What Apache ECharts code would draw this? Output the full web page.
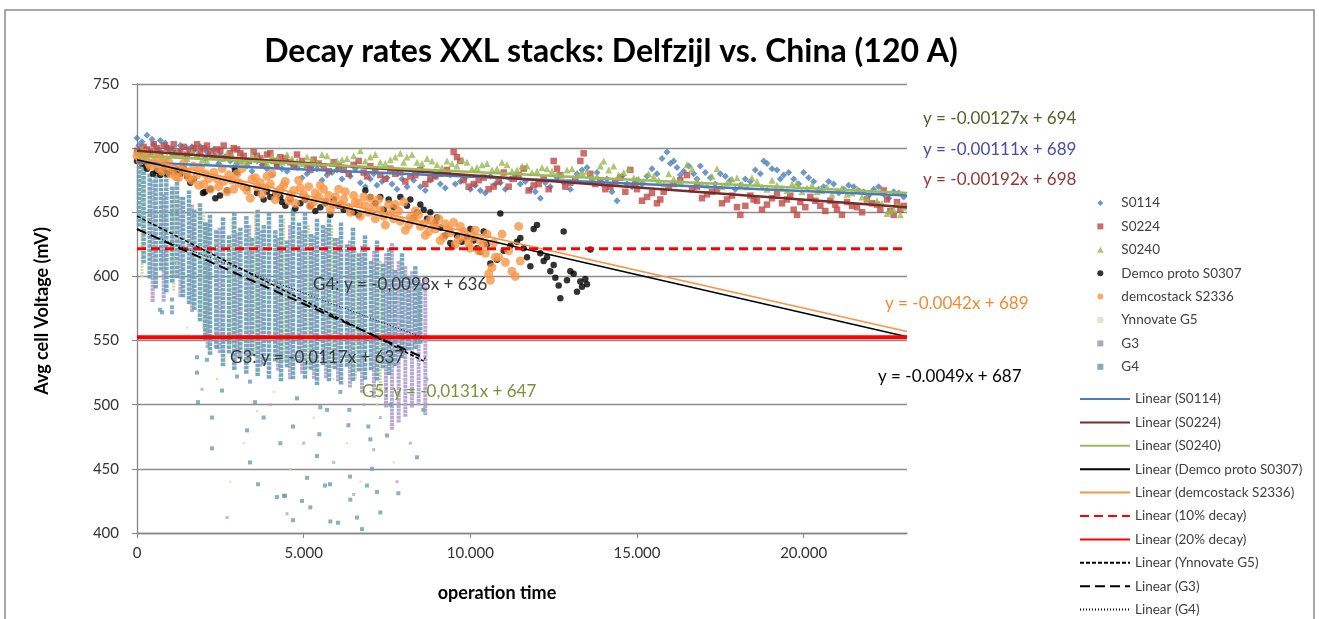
<!DOCTYPE html>
<html><head><meta charset="utf-8">
<script src="https://cdn.jsdelivr.net/npm/echarts@6.0.0/dist/echarts.min.js"></script>
<style>html,body{margin:0;padding:0;background:#fff}#c{width:1319px;height:619px}</style>
</head><body><div id="c"></div>
<script>
// ---------- data ----------
const titleText = 'Decay rates XXL stacks: Delfzijl vs. China (120 A)';
const xAxisName = 'operation time';
const yAxisName = 'Avg cell Voltage (mV)';

const s0114 = [[0,708],[150,705],[300,710],[500,703],[700,706],[900,701],[1100,699],[1300,702],[1500,700],[1700,698],[1900,701],[2100,697],[2300,699],[2500,694],[2800,690],[3000,688],[3300,686],[3600,690],[3900,684],[4200,687],[4500,682],[4800,685],[5100,680],[5400,684],[5700,679],[6000,683],[6400,678],[6700,673],[7000,676],[7200,671],[7500,677],[7800,668],[8100,670],[8300,675],[8500,670],[8800,675],[9100,672],[9400,679],[9700,674],[10000,668],[10300,667],[10600,678],[10900,673],[11200,676],[11500,672],[11800,668],[12100,661],[12400,670],[12800,673],[13200,680],[13500,685],[13800,681],[14100,676],[14400,659],[14700,672],[15000,675],[15300,678],[15600,680],[15900,697],[16000,688],[16200,685],[16400,682],[16700,680],[16900,686],[17200,677],[17500,680],[17800,675],[18100,671],[18400,674],[18700,680],[18900,688],[19200,683],[19400,679],[19700,676],[20000,681],[20300,674],[20600,670],[20900,672],[21200,668],[21500,670],[21800,666],[22100,668],[22400,664],[22700,666],[23000,662],
  [50,702],[250,698],[450,707],[650,699],[850,704],[1050,696],[1250,697],[1450,694],[1650,701],[1850,695],[2050,692],[2250,695],[2450,688],[2650,693],[2900,685],[3150,690],[3450,682],[3750,687],[4050,679],[4350,684],[4650,688],[4950,677],[5250,686],[5550,675],[5850,681],[6150,676],[6550,684],[6850,670],[7100,680],[7350,674],[7650,672],[7950,676],[8650,667],[8950,678],[9250,669],[9550,672],[9850,677],[10150,671],[10450,665],[10750,672],[11050,668],[11350,679],[11650,674],[11950,666],[12250,673],[12600,677],[13000,668],[13350,683],[13650,676],[13950,672],[14250,666],[14550,678],[14850,670],[15150,672],[15450,684],[15750,692],[16100,690],[16300,679],[16550,686],[16800,676],[17050,681],[17350,672],[17650,678],[17950,668],[18250,676],[18550,683],[18800,690],[19050,684],[19300,676],[19550,681],[19850,672],[20150,677],[20450,668],[20750,674],[21050,665],[21350,671],[21650,667],[21950,663],[22250,670],[22550,661],[22850,665]];
const s0224 = [[0,698],[200,701],[400,697],[600,700],[800,702],[1000,699],[1200,696],[1400,701],[1600,698],[1800,703],[2000,700],[2200,697],[2400,699],[2600,702],[2800,696],[3000,699],[3200,694],[3500,697],[3700,692],[3900,695],[4100,690],[4300,693],[4600,689],[4800,695],[5100,687],[5300,691],[5600,685],[5900,689],[6200,683],[6500,687],[6800,681],[7000,686],[7300,679],[7600,684],[7900,681],[8200,678],[8500,683],[8800,676],[9100,680],[9500,697],[9600,693],[9800,675],[10100,672],[10400,677],[10700,670],[11000,681],[11300,676],[11600,684],[11900,671],[12200,676],[12500,690],[12700,679],[13000,673],[13400,696],[13600,680],[13900,675],[14200,670],[14500,677],[14800,683],[15000,668],[15300,662],[15600,657],[15800,666],[16100,672],[16500,679],[16800,670],[17100,664],[17400,668],[17700,660],[18000,654],[18100,648],[18400,663],[18600,659],[18900,656],[19200,665],[19500,660],[19700,652],[19900,658],[20200,662],[20500,655],[20800,659],[21000,652],[21300,658],[21600,654],[21900,660],[22200,656],[22400,667],[22600,651],[22800,658],[23000,655],
  [100,695],[300,699],[500,703],[700,696],[900,700],[1100,703],[1300,697],[1500,695],[1700,700],[1900,697],[2100,702],[2300,694],[2500,698],[2700,693],[2900,700],[3100,696],[3350,690],[3600,694],[3800,688],[4000,696],[4200,686],[4450,692],[4700,686],[4950,690],[5200,683],[5450,688],[5750,682],[6050,686],[6350,680],[6650,690],[6900,678],[7150,683],[7450,676],[7750,680],[8050,674],[8350,679],[8650,672],[8950,678],[9300,683],[9700,690],[9950,670],[10250,675],[10550,668],[10850,674],[11150,670],[11450,679],[11750,667],[12050,672],[12350,668],[12600,684],[12850,670],[13150,676],[13300,690],[13750,672],[14050,668],[14350,674],[14650,666],[14950,672],[15150,659],[15450,665],[15700,660],[15950,670],[16300,675],[16650,668],[16950,661],[17250,666],[17550,657],[17850,663],[18250,655],[18500,660],[18750,652],[19050,661],[19350,657],[19600,663],[19800,648],[20050,654],[20350,659],[20650,651],[20950,656],[21150,648],[21450,655],[21750,650],[22050,657],[22300,652],[22500,660],[22700,648],[22900,652]];
const s0240 = [[0,697],[300,694],[600,696],[900,693],[1200,697],[1500,692],[1800,695],[2100,690],[2400,694],[2700,696],[3000,691],[3300,689],[3600,693],[3900,688],[4200,692],[4500,695],[4800,690],[5100,693],[5400,689],[5700,694],[6000,690],[6300,692],[6700,698],[7000,693],[7300,689],[7600,691],[7900,696],[8100,693],[8400,689],[8700,692],[9000,687],[9300,690],[9600,686],[9900,689],[10200,685],[10500,688],[10800,684],[11100,687],[11400,683],[11700,686],[12000,682],[12300,684],[12600,680],[12900,683],[13200,679],[13500,682],[13800,678],[14000,690],[14300,686],[14600,681],[14900,677],[15200,674],[15500,678],[15800,672],[16100,676],[16500,687],[16800,675],[17100,671],[17400,684],[17700,673],[18000,677],[18300,670],[18600,674],[18900,668],[19200,671],[19500,667],[19800,673],[20100,669],[20400,666],[20700,670],[21000,667],[21300,664],[21600,668],[21900,661],[22200,659],[22500,649],[22700,652],[22900,648],[23000,654],
  [150,699],[450,695],[750,692],[1050,696],[1350,694],[1650,697],[1950,691],[2250,695],[2550,692],[2850,694],[3150,690],[3450,694],[3750,691],[4050,694],[4350,689],[4650,692],[4950,688],[5250,691],[5550,695],[5850,688],[6150,691],[6500,694],[6850,690],[7150,695],[7450,688],[7750,693],[8000,689],[8250,695],[8550,688],[8850,690],[9150,685],[9450,688],[9750,691],[10050,684],[10350,687],[10650,683],[10950,689],[11250,682],[11550,686],[11850,681],[12150,685],[12450,682],[12750,679],[13050,684],[13350,681],[13650,677],[13900,686],[14150,683],[14450,679],[14750,684],[15050,676],[15350,680],[15650,675],[15950,680],[16300,674],[16650,684],[16950,672],[17250,678],[17550,670],[17850,676],[18150,672],[18450,677],[18750,670],[19050,675],[19350,669],[19650,672],[19950,666],[20250,671],[20550,667],[20850,664],[21150,669],[21450,665],[21750,662],[22050,666],[22350,657],[22600,651],[22800,656]];
const demcoProto = [[0,690],[150,688],[300,684],[480,680],[600,682],[800,684],[900,680],[1050,683],[1200,683],[1300,680],[1500,678],[1700,676],[1980,665],[2040,666],[2490,663],[2700,667],[2940,683],[3000,681],[3600,665],[3900,666],[4000,662],[4300,662],[4350,658],[4600,660],[4900,657],[5200,655],[5500,654],[5800,648],[5900,660],[6200,652],[6850,667],[7000,662],[7300,662],[7550,660],[7700,654],[7900,662],[8200,660],[8400,650],[8500,656],[8600,652],[8800,650],[8950,642],[9000,646],[9250,632],[9400,626],[9450,623],[9900,631],[10000,637],[10200,622],[10400,635],[10600,610],[10800,613],[10900,649],[11400,627],[11500,630],[11700,615],[11800,608],[11900,637],[12000,640],[12100,618],[12300,615],[12500,609],[12550,599],[12650,593],[12700,583],[12800,635],[12900,597],[13000,604],[13100,602],[13300,596],[13350,592],[13450,598],[13600,621],
  [250,687],[700,679],[1100,681],[1400,684],[1600,673],[2200,668],[2350,661],[3300,669],[3800,660],[4150,664],[4450,655],[4750,653],[5050,660],[5350,651],[5650,657],[6050,655],[6500,650],[6650,648],[7150,657],[7400,652],[8100,655],[8300,646],[8700,645],[9100,638],[9600,632],[9750,627],[10100,628],[10300,619],[10500,625],[11000,620],[11200,624],[11600,622],[12200,612],[12400,604],[13200,588],[13500,594]];
const demcostack = [[0,694],[100,690],[250,696],[400,686],[500,689],[650,684],[800,691],[900,686],[1000,680],[1100,684],[1250,677],[1400,688],[1500,681],[1650,675],[1800,679],[1900,685],[2000,672],[2150,676],[2300,681],[2450,670],[2600,674],[2750,679],[2900,668],[3050,673],[3150,684],[3300,667],[3450,676],[3600,670],[3750,664],[3900,678],[4000,672],[4150,660],[4300,668],[4450,674],[4600,663],[4750,657],[4900,669],[5050,661],[5200,655],[5350,665],[5500,671],[5650,658],[5800,652],[5950,662],[6100,656],[6250,666],[6400,650],[6550,658],[6700,647],[6850,655],[7000,661],[7150,645],[7300,652],[7450,640],[7600,649],[7750,656],[7900,643],[8050,636],[8200,646],[8350,651],[8500,639],[8650,632],[8800,644],[8950,637],[9100,628],[9250,641],[9400,634],[9550,625],[9700,639],[9850,631],[10000,622],[10150,636],[10300,628],[10450,618],[10550,602],[10600,597],[10700,626],[10850,615],[10950,633],[11050,611],[11150,620],[11250,604],[11350,600],[11450,639],[11500,612],
  [200,692],[350,688],[600,693],[750,682],[950,689],[1150,678],[1350,683],[1550,677],[1700,686],[1850,671],[2050,680],[2200,668],[2400,676],[2550,684],[2700,666],[2850,675],[3000,680],[3200,670],[3400,661],[3550,677],[3700,673],[3850,669],[4050,680],[4200,665],[4400,671],[4550,659],[4700,667],[4850,675],[5000,664],[5150,670],[5300,658],[5450,662],[5600,668],[5750,663],[5900,656],[6050,668],[6200,660],[6350,654],[6500,663],[6650,657],[6800,662],[6950,650],[7100,655],[7250,660],[7400,647],[7550,656],[7700,645],[7850,651],[8000,658],[8150,640],[8300,644],[8450,648],[8600,641],[8750,635],[8900,640],[9050,645],[9200,631],[9350,637],[9500,642],[9650,629],[9800,635],[9950,626],[10100,631],[10250,620],[10400,625],[10500,633],[10650,607],[10750,615]];
// dense vertical streaks: [x, low, high]
const g5Streaks = [[150,600,690],[1100,590,670],[2000,560,650],[2850,548,645],[3550,540,650],[4400,535,645],[5150,530,640],[5850,528,640],[6550,520,620],[7300,510,612]];
const g3Streaks = [[470,582,675],[800,580,664],[1300,585,662],[1650,572,656],[2120,545,642],[2480,540,638],[3010,538,634],[3370,536,640],[3710,530,636],[4230,528,630],[4590,522,640],[4950,526,636],[5310,520,632],[5670,522,638],[6030,518,630],[6390,515,628],[6750,510,624],[7110,505,620],[7470,500,618],[7650,482,626],[7850,486,612],[8050,492,608],[8250,498,604],[8450,500,600],[8650,494,598]];
const g4Streaks = [[60,640,700],[200,612,692],[380,600,680],[560,592,686],[720,604,676],[880,588,683],[1050,596,670],[1200,600,677],[1380,586,662],[1560,580,667],[1720,574,652],[1890,566,657],[2050,552,642],[2190,540,648],[2380,545,636],[2580,530,646],[2760,540,632],[2920,528,650],[3100,536,638],[3280,526,647],[3450,540,630],[3620,524,652],[3800,532,640],[3960,522,650],[4150,534,636],[4320,520,648],[4500,530,628],[4680,522,653],[4860,534,642],[5040,520,650],[5220,530,633],[5400,518,645],[5580,532,640],[5760,520,648],[5940,528,630],[6120,518,642],[6300,530,625],[6480,520,638],[6660,526,618],[6840,522,632],[7020,528,612],[7200,520,628],[7380,530,610],[7560,524,622],[7740,532,605],[7950,536,618],[8150,542,600],[8350,546,608],[8500,550,595]];
// isolated points
const g5Points = [[1500,560],[2400,520],[3200,470],[3600,495],[4100,510],[4600,450],[5300,490],[5900,520],[6300,470],[6700,440],[7200,500],[7700,455],[8000,520],[3000,600],[1200,610],[2800,440]];
const g3Points = [[1950,512],[2700,412],[3100,540],[4000,500],[5000,470],[5900,455],[6500,430],[7100,465],[7800,440],[8200,470],[8700,520],[4500,415],[6800,500],[7300,490]];
const g4Points = [[750,572],[1050,582],[1050,576],[1050,572],[690,574],[1800,537],[1800,525],[2100,535],[2550,511],[1830,502],[2250,490],[2250,466],[3390,455],[3390,518],[3000,522],[3540,502],[4200,428],[4410,429],[3630,438],[4680,483],[5470,477],[5400,460],[5100,443],[4440,429],[4950,425],[4680,410],[5640,437],[5790,438],[6340,484],[6390,444],[6900,437],[7200,432],[6400,426],[5800,409],[6030,408],[6750,403],[7300,416],[6940,483],[7000,473],[7500,476],[7840,431],[8400,459],[8590,496],[6370,496],[5700,496],[5500,498],[3300,480],[4800,505],[6100,510],[7600,500],[2400,545],[4300,470],[5200,420],[6600,412],[7050,450],[3800,490]];
// trend lines (end points)
const trS0114 = [[0,689],[23100,663]];
const trS0224 = [[0,698],[23100,654]];
const trS0240 = [[0,694],[23100,665]];
const trDemco = [[0,691],[23100,553]];
const trDemcostack = [[0,693],[23100,557]];
const tr10 = [[0,621.5],[23100,621.5]];
const tr20 = [[0,552.5],[23100,552.5]];
const trG5 = [[0,647],[8600,534]];
const trG3 = [[0,637],[8650,536]];
const trG4 = [[0,636],[8600,552]];
// equation labels
const eqTexts = ['y = -0.00127x + 694','y = -0.00111x + 689','y = -0.00192x + 698','y = -0.0042x + 689','y = -0.0049x + 687','G4: y = -0,0098x + 636','G3: y = -0,0117x + 637','G5: y = -0,0131x + 647'];

// ---------- chart ----------
const FONT = 'Lato, "Open Sans", sans-serif';
const chart = echarts.init(document.getElementById('c'));

function streak(color, w, h, step, op) {
  return function (params, api) {
    const t = api.coord([api.value(0), api.value(2)]);
    const b = api.coord([api.value(0), api.value(1)]);
    const children = [];
    for (let y = t[1]; y < b[1]; y += step) {
      children.push({type: 'rect', shape: {x: t[0] - w / 2, y: y, width: w, height: h}, style: {fill: color, opacity: op}});
    }
    return {type: 'group', children};
  };
}
function sc(name, data, symbol, size, color) {
  return {type: 'scatter', name, data, symbol, symbolSize: size, itemStyle: {color}, silent: true};
}
function ln(name, data, color, width, type) {
  return {type: 'line', name, data, symbol: 'none', silent: true, lineStyle: {color, width, type: type || 'solid'}, itemStyle: {color}, z: 5};
}
const cG5 = '#c9d89f', cG3 = '#b4a4cf', cG4 = '#6a9fb4';
const xFmt = v => String(v).replace(/\B(?=(\d{3})+(?!\d))/g, '.');
const P = {
  diamond: 'path://M5,0L10,5L5,10L0,5Z',
  square: 'path://M0,0H10V10H0Z',
  triangle: 'path://M5,0L10,9H0Z',
  circle: 'path://M5,0A5,5,0,1,1,5,10A5,5,0,1,1,5,0Z'
};

const eqPos = [[923,119,'#4f6228'],[923,150,'#4a4aa8'],[923,180,'#953735'],[885,304,'#f08a30'],[878,377,'#000000'],[313,285,'#3a3a3a'],[230,358,'#3a3a3a'],[362,392,'#77933c']];
const legText = {fontSize: 13.5, color: '#404040', fontFamily: FONT, lineHeight: 16};
const lineNames = ['Linear (S0114)', 'Linear (S0224)', 'Linear (S0240)', 'Linear (Demco proto S0307)', 'Linear (demcostack S2336)',
  'Linear (10% decay)', 'Linear (20% decay)', 'Linear (Ynnovate G5)', 'Linear (G3)', 'Linear (G4)'];

chart.setOption({
  animation: false,
  grid: {left: 137, right: 412, top: 84, bottom: 86},
  xAxis: {type: 'value', min: 0, max: 23100, interval: 5000,
    axisLine: {lineStyle: {color: '#868686', width: 1.3}},
    axisTick: {show: true, inside: false, length: 5, lineStyle: {color: '#868686'}},
    splitLine: {show: false},
    axisLabel: {margin: 13, fontSize: 15, color: '#333', fontFamily: FONT, showMaxLabel: false, formatter: xFmt}},
  yAxis: {type: 'value', min: 400, max: 750, interval: 50,
    axisLine: {show: true, lineStyle: {color: '#868686', width: 1.3}},
    axisTick: {show: true, inside: false, length: 5, lineStyle: {color: '#868686'}},
    splitLine: {show: true, lineStyle: {color: '#8c8c8c', width: 1.3}},
    axisLabel: {margin: 18, fontSize: 15, color: '#333', fontFamily: FONT}},
  legend: [
    {orient: 'vertical', left: 1097, top: 195, padding: 0, itemWidth: 32, itemHeight: 6, itemGap: 7.4, textStyle: legText,
      data: [{name: 'S0114', icon: P.diamond}, {name: 'S0224', icon: P.square}, {name: 'S0240', icon: P.triangle},
        {name: 'Demco proto S0307', icon: P.circle}, {name: 'demcostack S2336', icon: P.circle},
        {name: 'Ynnovate G5', icon: P.square, itemStyle: {color: '#dfe6c8'}}, {name: 'G3', icon: P.square, itemStyle: {color: '#a9a9b8'}}, {name: 'G4', icon: P.square, itemStyle: {color: '#8aa8b8'}}]},
    {orient: 'vertical', left: 1079, top: 391, padding: 0, itemWidth: 50, itemHeight: 12, itemGap: 7.4, textStyle: legText,
      itemStyle: {opacity: 0}, data: lineNames.slice(0, 9)},
    {orient: 'vertical', left: 1079, top: 601.6, padding: 0, itemWidth: 50, itemHeight: 12, itemGap: 7.4, textStyle: legText,
      itemStyle: {opacity: 0}, data: lineNames.slice(9)}
  ],
  series: [
    sc('S0114', s0114, 'diamond', 7, '#4a7ebb'),
    sc('S0224', s0224, 'rect', 6.5, '#be4b48'),
    sc('S0240', s0240, 'triangle', 7, '#98b954'),
    sc('Demco proto S0307', demcoProto, 'circle', 6.5, '#000000'),
    sc('demcostack S2336', demcostack, 'circle', 9, '#f79646'),
    {type: 'custom', name: 'Ynnovate G5', data: g5Streaks, renderItem: streak(cG5, 3, 2, 3, 0.95), itemStyle: {color: cG5}, encode: {x: 0, y: [1, 2]}, silent: true},
    sc('Ynnovate G5', g5Points, 'rect', 2, cG5),
    {type: 'custom', name: 'G3', data: g3Streaks, renderItem: streak(cG3, 4, 3, 3.6, 0.95), itemStyle: {color: cG3}, encode: {x: 0, y: [1, 2]}, silent: true},
    sc('G3', g3Points, 'rect', 3, cG3),
    {type: 'custom', name: 'G4', data: g4Streaks, renderItem: streak(cG4, 4.5, 3.6, 4.4, 0.92), itemStyle: {color: cG4}, encode: {x: 0, y: [1, 2]}, silent: true},
    sc('G4', g4Points, 'rect', 4, cG4),
    ln(lineNames[0], trS0114, '#4a7ebb', 2.5),
    ln(lineNames[1], trS0224, '#772c2a', 2.5),
    ln(lineNames[2], trS0240, '#9bbb59', 2.5),
    ln(lineNames[3], trDemco, '#000000', 1.6),
    ln(lineNames[4], trDemcostack, '#f79646', 1.6),
    ln(lineNames[5], tr10, '#ff0000', 3, [9, 5]),
    ln(lineNames[6], tr20, '#ff0000', 4),
    ln(lineNames[7], trG5, '#000000', 1.5, [4, 2]),
    ln(lineNames[8], trG3, '#000000', 2, [10, 5]),
    ln(lineNames[9], trG4, '#000000', 1, [1, 2])
  ],
  graphic: [
    {type: 'rect', shape: {x: 5, y: 10, width: 1309, height: 640}, style: {fill: 'none', stroke: '#8a8a8a', lineWidth: 1.5}, silent: true},
    {type: 'text', x: 611, y: 52, style: {text: titleText, font: 'bold 32px ' + FONT, fill: '#000', textAlign: 'center', textVerticalAlign: 'middle'}},
    {type: 'text', x: 497, y: 593, style: {text: xAxisName, font: 'bold 18px ' + FONT, fill: '#000', textAlign: 'center', textVerticalAlign: 'middle'}},
    {type: 'text', x: 42, y: 311, rotation: Math.PI / 2, style: {text: yAxisName, font: 'bold 18px ' + FONT, fill: '#000', textAlign: 'center', textVerticalAlign: 'middle'}}
  ].concat(eqTexts.map((t, i) => ({type: 'text', x: eqPos[i][0], y: eqPos[i][1], z: 10,
    style: {text: t, font: '17px ' + FONT, fill: eqPos[i][2], textAlign: 'left', textVerticalAlign: 'middle'}})))
});
</script></body></html>
